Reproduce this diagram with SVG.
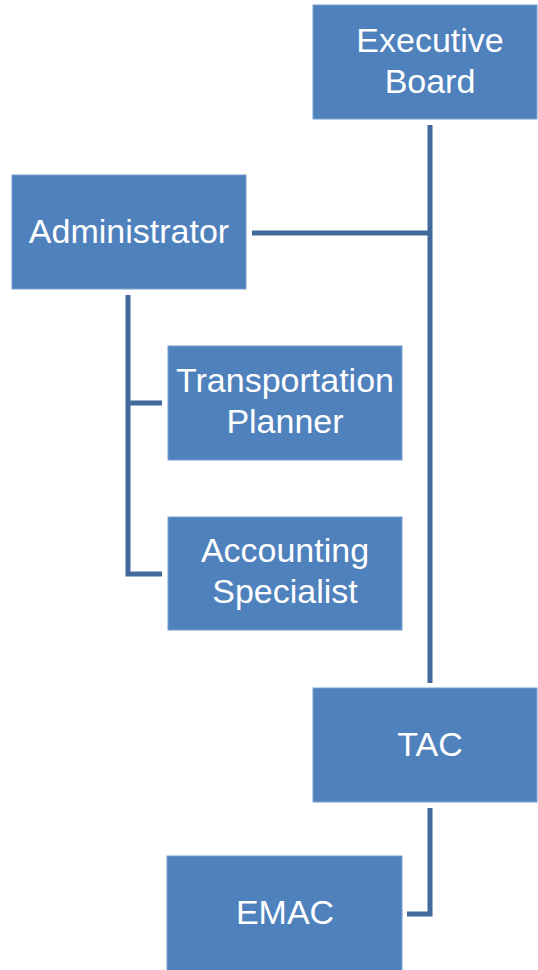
<svg xmlns="http://www.w3.org/2000/svg" width="538" height="970" viewBox="0 0 538 970">
<style>
.box{fill:#4f81bd;stroke:#7aa0d2;stroke-width:1}
.lbl{fill:#ffffff;font-family:"Liberation Sans",Arial,sans-serif;font-size:34px;text-anchor:middle}
.conn{fill:none;stroke:#41699c;stroke-width:5}
</style>
<rect width="538" height="970" fill="#ffffff"/>
<g id="connectors">
<line class="conn" x1="430" y1="125" x2="430" y2="683"/>
<line class="conn" x1="252" y1="233" x2="430" y2="233"/>
<polyline class="conn" points="128,295 128,574 162,574"/>
<line class="conn" x1="128" y1="403" x2="162" y2="403"/>
<polyline class="conn" points="430,808 430,914 407,914"/>
</g>
<g id="executive-board">
<rect class="box" x="313" y="5" width="224" height="114"/>
<text class="lbl" x="430" y="52">Executive</text>
<text class="lbl" x="430" y="93">Board</text>
</g>
<g id="administrator">
<rect class="box" x="12" y="175" width="234" height="114"/>
<text class="lbl" x="129" y="243">Administrator</text>
</g>
<g id="transportation-planner">
<rect class="box" x="168" y="346" width="234" height="114"/>
<text class="lbl" x="285" y="392">Transportation</text>
<text class="lbl" x="285" y="433">Planner</text>
</g>
<g id="accounting-specialist">
<rect class="box" x="168" y="517" width="234" height="113"/>
<text class="lbl" x="285" y="562">Accounting</text>
<text class="lbl" x="285" y="603">Specialist</text>
</g>
<g id="tac">
<rect class="box" x="313" y="688" width="224" height="114"/>
<text class="lbl" x="430" y="756">TAC</text>
</g>
<g id="emac">
<rect class="box" x="167" y="856" width="235" height="120"/>
<text class="lbl" x="285" y="924">EMAC</text>
</g>
</svg>
